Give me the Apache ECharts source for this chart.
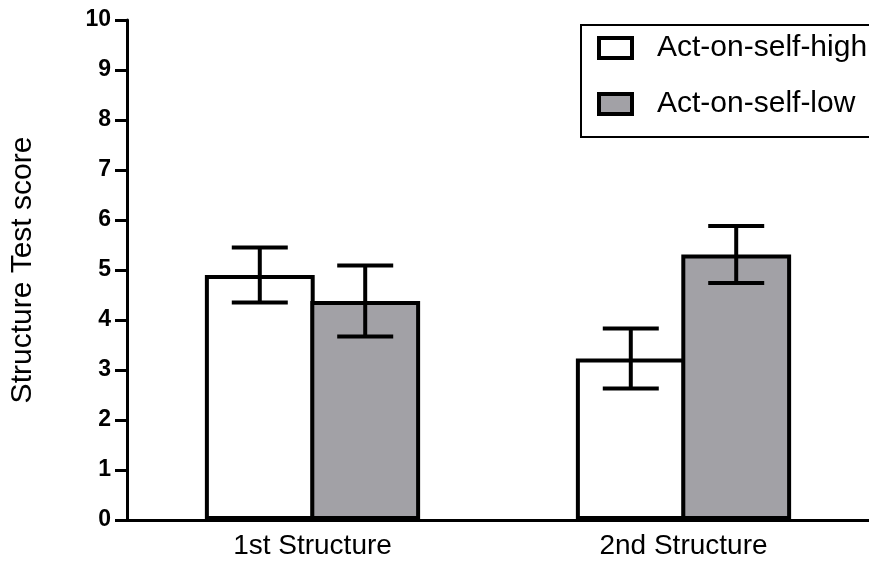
<!DOCTYPE html>
<html>
<head>
<meta charset="utf-8">
<script src="https://cdn.jsdelivr.net/npm/echarts@6/dist/echarts.min.js"></script>
<style>html,body{margin:0;padding:0;background:#fff}#c{width:869px;height:566px}</style>
</head>
<body>
<div id="c"></div>
<script>
const categories = ['1st Structure', '2nd Structure'];
const seriesNames = ['Act-on-self-high', 'Act-on-self-low'];
const highMeans = [4.9, 3.23];
const highErr = [0.55, 0.6];
const lowMeans = [4.38, 5.31];
const lowErr = [0.71, 0.57];
const yTicks = [0, 1, 2, 3, 4, 5, 6, 7, 8, 9, 10];

const BAR_FRAC = 0.296;
const GAP = -0.04;
function errData(means, errs) {
  return means.map((m, i) => [i, m - errs[i], m + errs[i]]);
}
function errSeries(means, errs, side) {
  return {
    type: 'custom',
    z: 5,
    silent: true,
    data: errData(means, errs),
    renderItem: function (params, api) {
      const band = api.size([1, 0])[0];
      const bw = band * BAR_FRAC;
      const off = side * (bw / 2 + bw * GAP / 2);
      const lo = api.coord([api.value(0), api.value(1)]);
      const hi = api.coord([api.value(0), api.value(2)]);
      const x = lo[0] + off;
      const cap = 28;
      const st = { stroke: '#000', lineWidth: 4 };
      return {
        type: 'group',
        children: [
          { type: 'line', shape: { x1: x, y1: lo[1], x2: x, y2: hi[1] }, style: st },
          { type: 'line', shape: { x1: x - cap, y1: lo[1], x2: x + cap, y2: lo[1] }, style: st },
          { type: 'line', shape: { x1: x - cap, y1: hi[1], x2: x + cap, y2: hi[1] }, style: st }
        ]
      };
    }
  };
}

const chart = echarts.init(document.getElementById('c'));
chart.setOption({
  animation: false,
  textStyle: { fontFamily: 'Liberation Sans, Arial, sans-serif' },
  grid: { left: 126, top: 20, width: 744, height: 500 },
  legend: {
    orient: 'vertical',
    left: 581, top: 25,
    data: seriesNames,
    icon: 'rect',
    itemWidth: 33, itemHeight: 20, itemGap: 26,
    padding: [8, 40, 18, 16],
    borderColor: '#000', borderWidth: 2,
    backgroundColor: '#fff',
    itemStyle: { borderColor: '#000', borderWidth: 4 },
    textStyle: { color: '#000', fontSize: 30, lineHeight: 30, fontFamily: 'Liberation Sans, Arial, sans-serif', padding: [0, 0, 0, 20] }
  },
  xAxis: {
    type: 'category',
    data: categories,
    axisLine: { lineStyle: { color: '#000', width: 3 } },
    axisTick: { alignWithLabel: true, length: 8, lineStyle: { color: '#000', width: 3 } },
    axisLabel: { color: '#000', fontSize: 28, margin: 12 }
  },
  yAxis: {
    type: 'value',
    min: yTicks[0], max: yTicks[yTicks.length - 1], interval: 1,
    name: 'Structure Test score',
    nameLocation: 'middle',
    nameGap: 89,
    nameTextStyle: { color: '#000', fontSize: 30 },
    splitLine: { show: false },
    axisLine: { show: true, lineStyle: { color: '#000', width: 3 } },
    axisTick: { show: true, length: 12, lineStyle: { color: '#000', width: 3 } },
    axisLabel: { color: '#000', fontSize: 23, fontWeight: 'bold', margin: 16 }
  },
  series: [
    {
      name: seriesNames[0], type: 'bar', data: highMeans,
      barWidth: (BAR_FRAC * 100) + '%', barGap: (GAP * 100) + '%',
      itemStyle: { color: '#ffffff', borderColor: '#000', borderWidth: 4 }
    },
    {
      name: seriesNames[1], type: 'bar', data: lowMeans,
      barWidth: (BAR_FRAC * 100) + '%', barGap: (GAP * 100) + '%',
      itemStyle: { color: '#a2a1a6', borderColor: '#000', borderWidth: 4 }
    },
    errSeries(highMeans, highErr, -1),
    errSeries(lowMeans, lowErr, 1)
  ]
});
</script>
</body>
</html>
